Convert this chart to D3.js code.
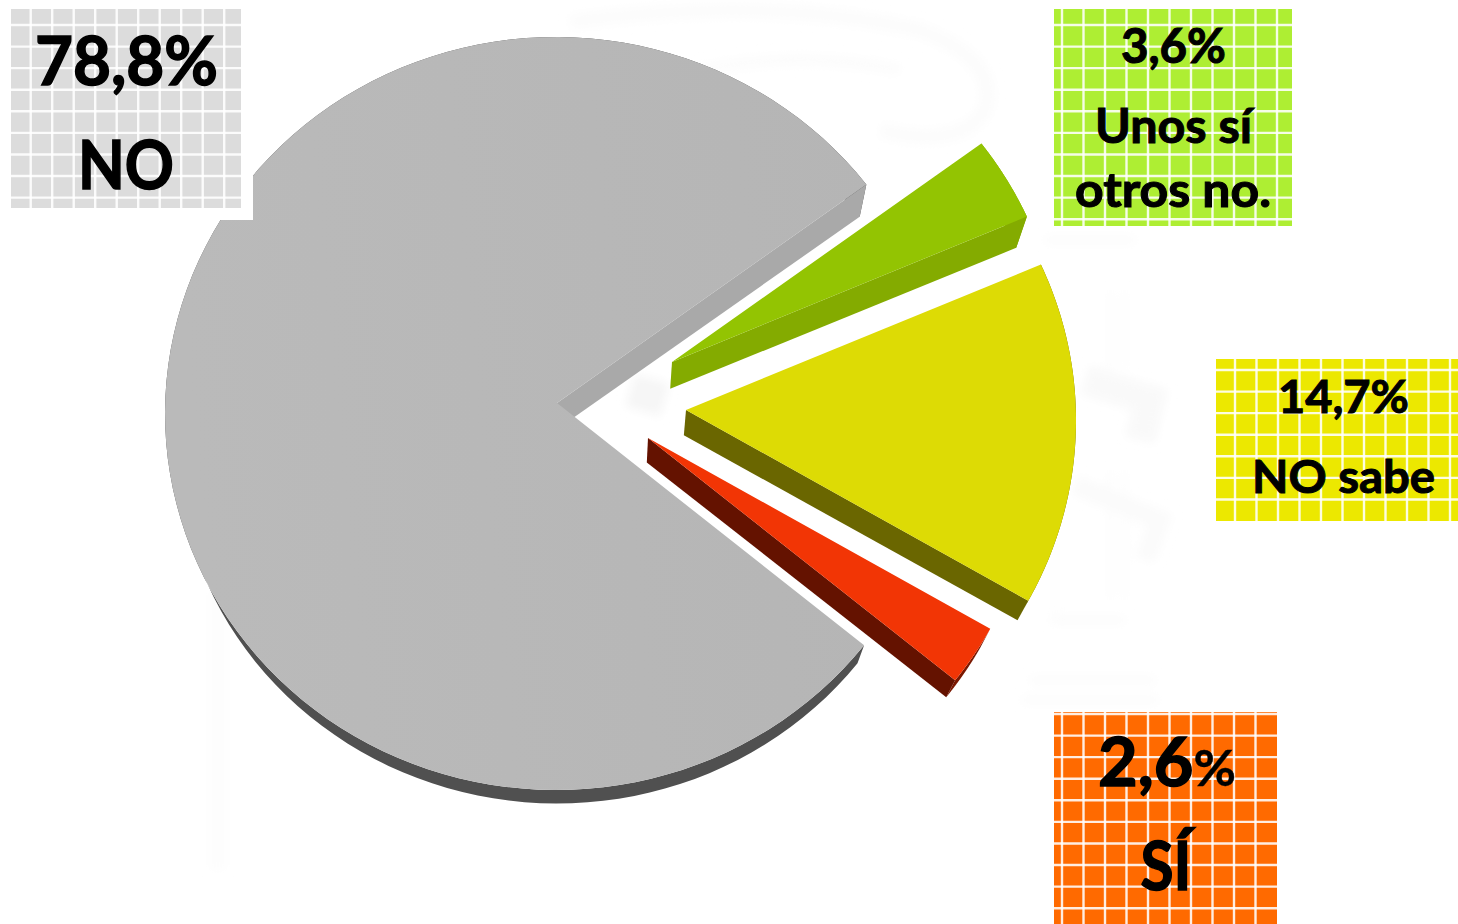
<!DOCTYPE html>
<html><head><meta charset="utf-8">
<script src="https://cdn.jsdelivr.net/npm/d3@7/dist/d3.min.js"></script>
<style>html,body{margin:0;padding:0;background:#fff;overflow:hidden}svg{display:block}text{font-family:Lato,sans-serif;font-weight:700;fill:#000;stroke:#000;text-anchor:middle}</style>
</head><body>
<svg id="c" width="1458" height="924"></svg>
<script>
// Data
const categories = ["NO", "Unos sí otros no.", "NO sabe", "SÍ"];
const values = [78.8, 3.6, 14.7, 2.6];
const percentLabels = ["78,8%", "3,6%", "14,7%", "2,6%"];
const categoryLines = [["NO"], ["Unos sí", "otros no."], ["NO sabe"], ["SÍ"]];

// Styling
const topColors = ["#b6b6b6", "#93c402", "#dddb05", "#f23505"];
const sideColors = ["#a9a9a9", "#84ab00", "#6a6600", "#641200"];
const rimColors = ["#505050", "#84ab00", "#6a6600", "#7a1800"];
const boxColors = ["#dcdcdc", "#aeee33", "#ece800", "#ff6a00"];

// Layout of the exploded 3D pie
const apexes = [[557, 403], [672, 362], [686, 410], [648, 438]];
const radiusX = 391, radiusY = 376.5, centreDx = -1, centreDy = 10.5;
const depth = ([x, y]) => [x - 0.025 * (x - 600), y + 38 - 0.031 * y];

const boxes = [
  {x: 11, y: 9, w: 230, h: 199, gx: 30.7, gy: 25},
  {x: 1054, y: 9, w: 238, h: 217, gx: 1062, gy: 25},
  {x: 1216, y: 359, w: 242, h: 162, gx: 1235, gy: 370},
  {x: 1054, y: 712, w: 223, h: 212, gx: 1062, gy: 714}
];
const gridStep = 21.5;
const textLayouts = [
  [{cx: 126.5, by: 84.5, fs: 67, w: 183}, {cx: 126, by: 188.5, fs: 67, w: 96}],
  [{cx: 1173.5, by: 63, fs: 48, w: 105}, {cx: 1173.5, by: 143, fs: 47, w: 157}, {cx: 1173, by: 207, fs: 47, w: 196}],
  [{cx: 1343.5, by: 413, fs: 46, w: 131}, {cx: 1343.5, by: 493, fs: 46, w: 183}],
  [{cx: 1167, by: 786, fs: 66, pct: 50, w: 138}, {cx: 1166, by: 890, fs: 67, w: 51}]
];

const svg = d3.select("#c");
const defs = svg.append("defs");
const blur = defs.append("filter").attr("id", "soft");
blur.append("feGaussianBlur").attr("stdDeviation", 5);
const grad = defs.append("linearGradient").attr("id", "greyTop").attr("x1", 0).attr("x2", 1).attr("y1", 0.1).attr("y2", 0);
grad.append("stop").attr("offset", 0).attr("stop-color", "#bababa");
grad.append("stop").attr("offset", 1).attr("stop-color", "#b5b5b5");

// Faint watermark behind the pie
const wm = svg.append("g").attr("filter", "url(#soft)").attr("fill", "none").attr("stroke", "#fbfbfb");
wm.append("path").attr("stroke-width", 16).attr("stroke", "#fcfcfc").attr("d", "M570 22 Q760 -5 920 30 Q1000 60 985 110 Q960 150 880 130");
wm.append("path").attr("stroke-width", 12).attr("stroke", "#fcfcfc").attr("d", "M700 70 Q800 50 900 70");
wm.append("path").attr("stroke-width", 30).attr("stroke", "#f9f9f9").attr("d", "M1085 380 L1150 400 L1140 440");
wm.append("path").attr("stroke-width", 20).attr("stroke", "#fbfbfb").attr("d", "M1075 485 L1160 520 L1145 560");
wm.append("path").attr("stroke-width", 4).attr("stroke", "#fbfbfb").attr("d", "M1110 290 V370 M1125 290 V370 M1110 470 V600 M1125 470 V600 M1055 540 V620");
wm.append("path").attr("stroke-width", 10).attr("stroke", "#fcfcfc").attr("d", "M1045 240 H1135 M1050 620 H1125 M1030 680 H1155 M1022 700 H1158");
wm.append("path").attr("stroke-width", 18).attr("stroke", "#fdfdfd").attr("d", "M218 590 V870");
wm.append("path").attr("stroke-width", 34).attr("stroke", "#f6f6f6").attr("d", "M630 390 L665 400");

// Slices from d3.pie
const pie = d3.pie().sort(null).value(d => d)
  .startAngle(128 * Math.PI / 180).endAngle((128 + 360) * Math.PI / 180);
const arcs = pie(values);
const line = d3.line();

function rimPoints(i, a0, a1) {
  const [ax, ay] = apexes[i];
  const cx = ax + centreDx, cy = ay + centreDy;
  return d3.range(0, 121).map(k => {
    const t = a0 + (a1 - a0) * k / 120;
    return [cx + radiusX * Math.sin(t), cy - radiusY * Math.cos(t)];
  });
}

arcs.forEach((a, i) => {
  const g = svg.append("g").attr("class", "slice");
  const rim = rimPoints(i, a.startAngle, a.endAngle);
  const apex = apexes[i];
  const end = rim[rim.length - 1];
  g.append("path").attr("fill", rimColors[i])
    .attr("d", line(rim.concat(rim.map(depth).reverse())) + "Z");
  g.append("path").attr("fill", sideColors[i])
    .attr("d", line([apex, end, depth(end), depth(apex)]) + "Z");
  g.append("path").attr("fill", i === 0 ? "url(#greyTop)" : topColors[i])
    .attr("d", line([apex].concat(rim)) + "Z");
});

// White panel cut out behind the first label
svg.append("rect").attr("x", 0).attr("y", 0).attr("width", 253).attr("height", 220).attr("fill", "#fff");

// Label boxes
boxes.forEach((b, i) => {
  const g = svg.append("g").attr("class", "label");
  g.append("rect").attr("x", b.x).attr("y", b.y).attr("width", b.w).attr("height", b.h).attr("fill", boxColors[i]);
  const xs = d3.range(b.gx, b.x + b.w, gridStep);
  const ys = d3.range(b.gy, b.y + b.h, gridStep + 0.08);
  g.selectAll("line.v").data(xs).join("line").attr("class", "v")
    .attr("x1", d => d).attr("x2", d => d).attr("y1", b.y).attr("y2", b.y + b.h)
    .attr("stroke", "#fff").attr("stroke-opacity", 0.88).attr("stroke-width", 2.4);
  g.selectAll("line.h").data(ys).join("line").attr("class", "h")
    .attr("y1", d => d).attr("y2", d => d).attr("x1", b.x).attr("x2", b.x + b.w)
    .attr("stroke", "#fff").attr("stroke-opacity", 0.88).attr("stroke-width", 2.4);

  const lines = [percentLabels[i]].concat(categoryLines[i]);
  lines.forEach((s, k) => {
    const L = textLayouts[i][k];
    const t = g.append("text").attr("x", L.cx).attr("y", L.by).attr("font-size", L.fs)
      .attr("stroke-width", L.fs * 0.022)
      .attr("textLength", L.w).attr("lengthAdjust", "spacingAndGlyphs");
    if (L.pct) {
      t.append("tspan").text(s.slice(0, -1));
      t.append("tspan").attr("font-size", L.pct).attr("stroke-width", 0.4).text("%");
    } else t.text(s);
  });
});
</script>
</body></html>
